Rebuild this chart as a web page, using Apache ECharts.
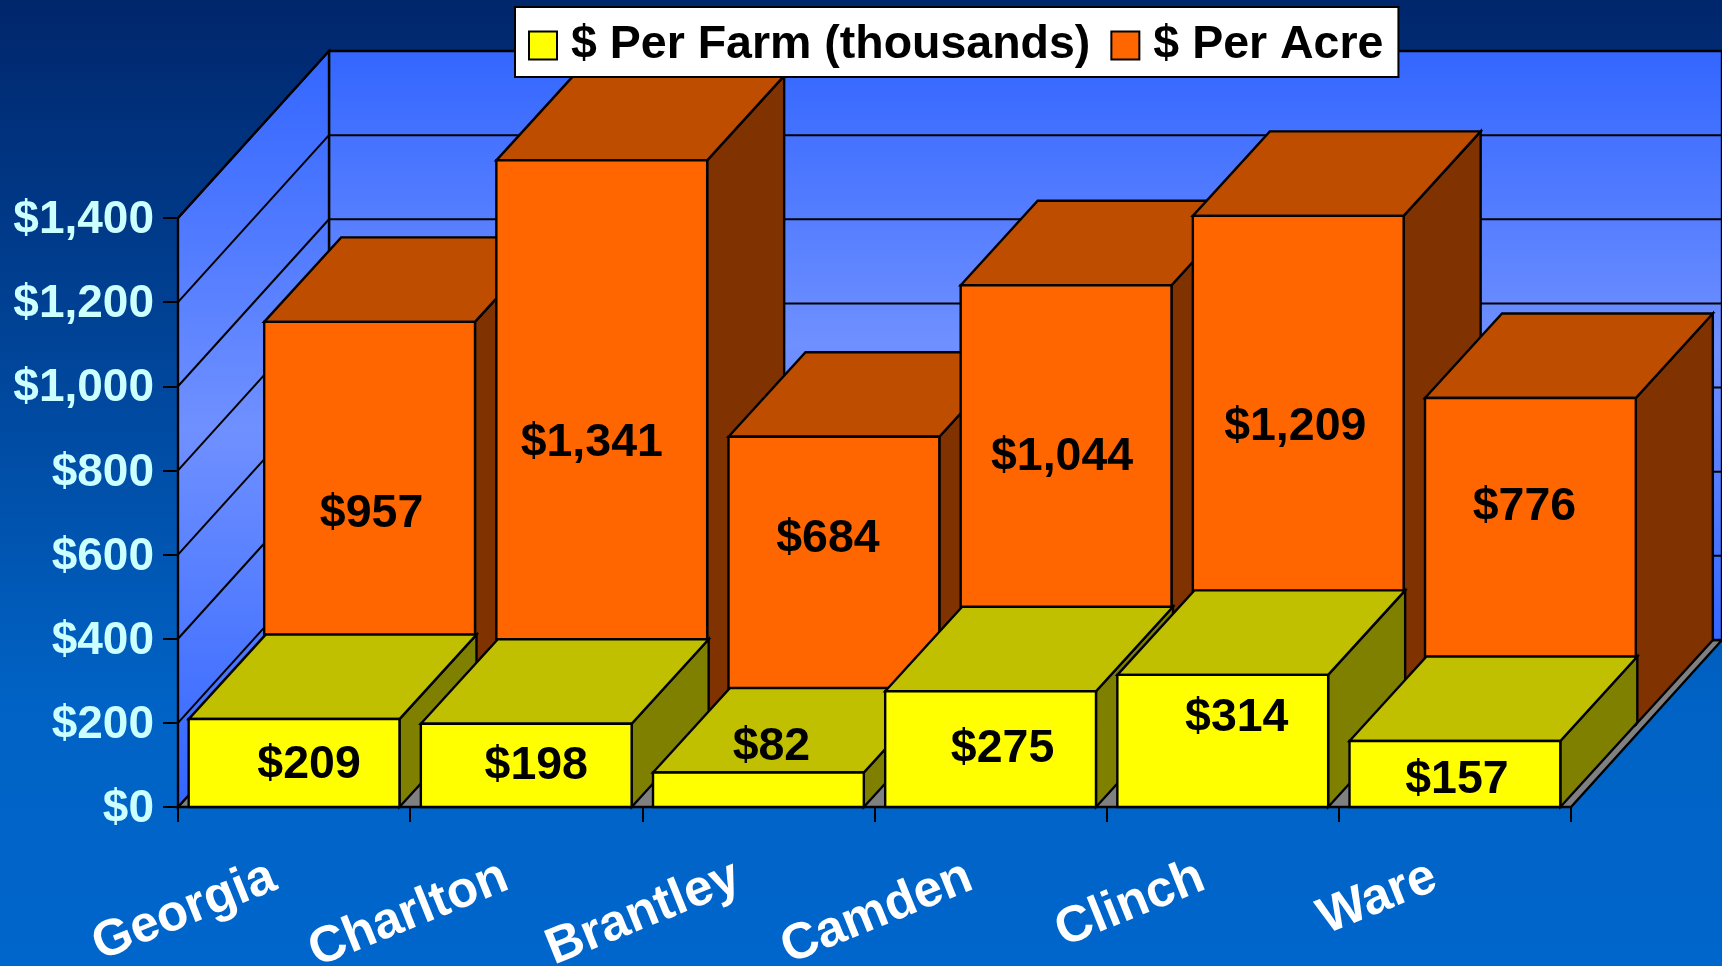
<!DOCTYPE html>
<html>
<head>
<meta charset="utf-8">
<title>Farm value</title>
<style>
  html, body { margin: 0; padding: 0; width: 100%; height: 100%; overflow: hidden; }
  #chart { width: 1722px; height: 966px; }
</style>
<script src="https://cdn.jsdelivr.net/npm/echarts@6/dist/echarts.min.js"></script>
</head>
<body>
<div id="chart"></div>
<script>
const categories = ['Georgia', 'Charlton', 'Brantley', 'Camden', 'Clinch', 'Ware'];
const perFarm = [209, 198, 82, 275, 314, 157];
const perAcre = [957, 1341, 684, 1044, 1209, 776];
const yTicks = [0, 200, 400, 600, 800, 1000, 1200, 1400];

// the value labels were placed by hand in the original, so nudge them off the face centre
const farmNudgeX = [15, 10, 13, 12, 14, 2];
const farmNudgeY = [2, 1, -43, 0, -23, 6];
const acreNudgeX = [2, -10, -6, -4, -3, -6];
const acreNudgeY = [-9, 1, -41, -48, -43, -54];

const FONT = '"Liberation Sans", Arial, sans-serif';
// fake 3d box: wall depth, how far the back row sits, how deep one bar is
const WALL_X = 151;
const WALL_Y = -167;
const ROW_X = 75.5;
const ROW_Y = -82.5;
const BAR_X = 77;
const BAR_Y = -84.5;
const BAR_RATIO = 0.908;

const chart = echarts.init(document.getElementById('chart'));

function face(points, fill) {
  return {
    type: 'polygon',
    shape: { points: points },
    style: { fill: fill, stroke: '#000', lineWidth: 2.4, lineJoin: 'miter' },
  };
}

// draws one box, row = 0 front row, row = 1 back row
function boxRenderer(row, colors, nudgeX, nudgeY) {
  return function (params, api) {
    const i = api.value(0);
    const top = api.coord([i, api.value(1)]);
    const base = api.coord([i, 0]);
    const width = api.size([1, 0])[0] * BAR_RATIO;
    const left = top[0] - width / 2 + ROW_X * row;
    const right = left + width;
    const yTop = top[1] + ROW_Y * row;
    const yBase = base[1] + ROW_Y * row;
    return {
      type: 'group',
      children: [
        face([[right, yTop], [right + BAR_X, yTop + BAR_Y], [right + BAR_X, yBase + BAR_Y], [right, yBase]], colors.side),
        face([[left, yTop], [left + BAR_X, yTop + BAR_Y], [right + BAR_X, yTop + BAR_Y], [right, yTop]], colors.top),
        face([[left, yTop], [right, yTop], [right, yBase], [left, yBase]], colors.front),
        {
          type: 'text',
          x: (left + right) / 2 + nudgeX[params.dataIndex],
          y: (yTop + yBase) / 2 + nudgeY[params.dataIndex],
          z2: 5,
          style: {
            text: '$' + api.value(1).toLocaleString('en-US'),
            font: 'bold 46.5px ' + FONT,
            fill: '#000',
            align: 'center',
            verticalAlign: 'middle',
          },
        },
      ],
    };
  };
}

function renderWalls(params, api) {
  const box = params.coordSys;
  const x0 = box.x;
  const x1 = box.x + box.width;
  const yTop = api.coord([0, 1400])[1];
  const yBase = api.coord([0, 0])[1];
  const wallFill = new echarts.graphic.LinearGradient(0, 0, 0, 1, [
    { offset: 0, color: '#3366ff' },
    { offset: 0.5, color: '#6f90ff' },
    { offset: 1, color: '#3366ff' },
  ]);
  return {
    type: 'group',
    children: [
      face([[x0, yBase], [x1, yBase], [x1 + WALL_X, yBase + WALL_Y], [x0 + WALL_X, yBase + WALL_Y]], '#808080'),
      face([[x0 + WALL_X, yTop + WALL_Y], [x1 + WALL_X, yTop + WALL_Y], [x1 + WALL_X, yBase + WALL_Y], [x0 + WALL_X, yBase + WALL_Y]], wallFill),
      face([[x0, yTop], [x0 + WALL_X, yTop + WALL_Y], [x0 + WALL_X, yBase + WALL_Y], [x0, yBase]], wallFill),
    ],
  };
}

function renderGridLine(params, api) {
  const box = params.coordSys;
  const y = api.coord([0, api.value(1)])[1];
  const lineStyle = { stroke: '#000', lineWidth: 2 };
  return {
    type: 'group',
    children: [
      { type: 'line', shape: { x1: box.x, y1: y, x2: box.x + WALL_X, y2: y + WALL_Y }, style: lineStyle },
      { type: 'line', shape: { x1: box.x + WALL_X, y1: y + WALL_Y, x2: box.x + box.width + WALL_X, y2: y + WALL_Y }, style: lineStyle },
    ],
  };
}

const option = {
  animation: false,
  backgroundColor: new echarts.graphic.LinearGradient(0, 0, 0, 1, [
    { offset: 0, color: '#00266c' },
    { offset: 0.72, color: '#0062c4' },
    { offset: 1, color: '#0066cc' },
  ]),
  legend: {
    data: ['$ Per Farm (thousands)', '$ Per Acre'],
    left: 515,
    top: 7,
    z: 20,
    padding: [15, 15, 8, 13],
    itemWidth: 28,
    itemHeight: 28,
    itemGap: 20,
    icon: 'rect',
    backgroundColor: '#fff',
    borderColor: '#000',
    borderWidth: 2,
    itemStyle: { borderColor: '#000', borderWidth: 2 },
    selectedMode: false,
    textStyle: { fontFamily: FONT, fontWeight: 'bold', fontSize: 46.5, color: '#000', padding: [0, 0, 0, 9] },
  },
  grid: { left: 178, top: 218, width: 1393, height: 589, outerBoundsMode: 'none' },
  xAxis: {
    type: 'category',
    data: categories,
    z: 10,
    axisLine: { show: true, lineStyle: { color: '#000', width: 2 } },
    axisTick: { show: true, length: 15, lineStyle: { color: '#000', width: 2 } },
    axisLabel: {
      interval: 0,
      rotate: 22,
      margin: 60,
      padding: [0, 22, 0, 0],
      color: '#fff',
      fontFamily: FONT,
      fontWeight: 'bold',
      fontSize: 51,
    },
  },
  yAxis: {
    type: 'value',
    min: 0,
    max: 1400,
    interval: 200,
    z: 10,
    splitLine: { show: false },
    axisLine: { show: true, lineStyle: { color: '#000', width: 2 } },
    axisTick: { show: true, length: 15, lineStyle: { color: '#000', width: 2 } },
    axisLabel: {
      margin: 24,
      // top align with a thin line box drops the text a little below the tick, like the original
      verticalAlign: 'top',
      lineHeight: 5,
      color: '#ccffff',
      fontFamily: FONT,
      fontWeight: 'bold',
      fontSize: 46,
      formatter: (v) => '$' + v.toLocaleString('en-US'),
    },
  },
  series: [
    {
      name: 'walls',
      type: 'custom',
      silent: true,
      z: 1,
      data: [[categories[0], 1400]],
      encode: { x: 0, y: 1 },
      renderItem: renderWalls,
    },
    {
      name: 'gridlines',
      type: 'custom',
      silent: true,
      z: 2,
      data: yTicks.slice(1).map((t) => [categories[0], t]),
      encode: { x: 0, y: 1 },
      renderItem: renderGridLine,
    },
    {
      name: '$ Per Acre',
      type: 'custom',
      z: 3,
      itemStyle: { color: '#ff6600' },
      data: perAcre.map((v, i) => [categories[i], v]),
      encode: { x: 0, y: 1 },
      renderItem: boxRenderer(1, { front: '#ff6600', top: '#bf4d00', side: '#803300' }, acreNudgeX, acreNudgeY),
    },
    {
      name: '$ Per Farm (thousands)',
      type: 'custom',
      z: 4,
      itemStyle: { color: '#ffff00' },
      data: perFarm.map((v, i) => [categories[i], v]),
      encode: { x: 0, y: 1 },
      renderItem: boxRenderer(0, { front: '#ffff00', top: '#c0c000', side: '#808000' }, farmNudgeX, farmNudgeY),
    },
  ],
};

chart.setOption(option);
</script>
</body>
</html>
